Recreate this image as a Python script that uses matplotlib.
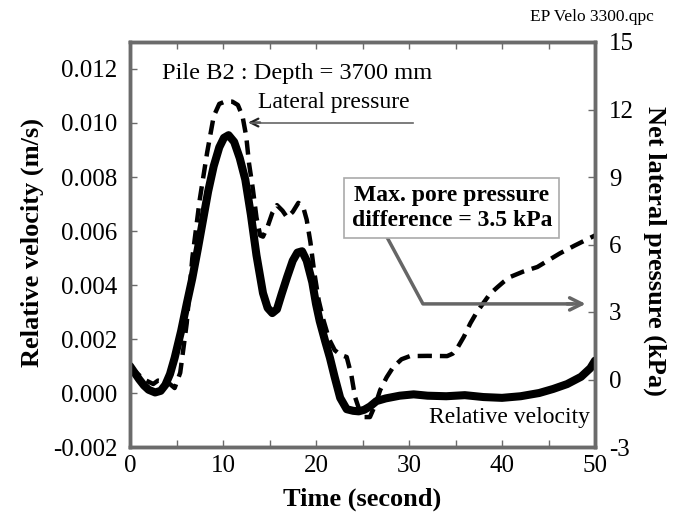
import matplotlib
matplotlib.use("Agg")
import matplotlib.pyplot as plt

plt.rcParams['font.family'] = ['Liberation Serif', 'DejaVu Serif']

# Relative velocity (m/s), left axis
vel_t = [0, 0.5, 1.0, 1.5, 2.0, 2.7, 3.3, 3.8, 4.3, 4.8, 5.5, 6.1, 6.7, 7.3, 7.9, 8.4,
         9.0, 9.6, 10.1, 10.6, 11.2, 11.8, 12.4, 13.0, 13.6, 14.3, 14.8, 15.3, 15.8,
         16.3, 16.9, 17.5, 18.0, 18.5, 19.0, 19.6, 20.0, 20.4, 21.0, 21.5, 22.0, 22.6,
         23.3, 24.0, 24.6, 25.2, 25.8, 26.5, 27.5, 29.0, 30.5, 32.0, 34.0, 36.0, 38.0,
         40.0, 42.0, 44.0, 45.5, 47.0, 48.5, 49.5, 50.0]
vel_v = [0.00100, 0.00075, 0.00050, 0.00028, 0.00012, 0.00002, 0.00008, 0.00030,
         0.00070, 0.00130, 0.00230, 0.00330, 0.00425, 0.00535, 0.00650, 0.00746,
         0.00840, 0.00910, 0.00945, 0.00955, 0.00930, 0.00870, 0.00790, 0.00660,
         0.00510, 0.00370, 0.00315, 0.00296, 0.00310, 0.00366, 0.00430, 0.00490,
         0.00520, 0.00525, 0.00490, 0.00410, 0.00330, 0.00266, 0.00190, 0.00130,
         0.00060, -0.00018, -0.00060, -0.00066, -0.00068, -0.00062, -0.00050,
         -0.00030, -0.00020, -0.00010, -0.00005, -0.00010, -0.00012, -0.00008,
         -0.00015, -0.00018, -0.00012, 0.00000, 0.00015, 0.00033, 0.00060, 0.00092,
         0.00120]

# Net lateral pressure (kPa), right axis
lp_t = [0, 0.7, 1.5, 2.5, 3.0, 4.0, 4.8, 5.4, 6.1, 6.7, 7.5, 8.3, 9.0, 9.6, 10.2, 11.0,
        11.6, 12.1, 12.5, 12.8, 13.2, 13.6, 14.0, 14.3, 14.8, 15.3, 15.8, 16.4, 16.9,
        17.5, 18.1, 18.6, 19.0, 19.4, 19.8, 20.3, 20.8, 21.4, 22.0, 22.6, 23.3, 23.8,
        24.2, 24.7, 25.1, 25.8, 26.4, 26.9, 27.6, 28.3, 29.2, 30.1, 32.0, 34.1, 34.7,
        35.2, 35.9, 36.6, 37.3, 38.0, 38.7, 39.5, 40.2, 40.9, 42.3, 43.8, 45.0, 46.2,
        47.8, 49.5, 50.0]
lp_v = [0.6, 0.3, 0.0, -0.2, -0.05, -0.1, -0.38, 0.3, 2.5, 5.4, 8.0, 10.1, 11.7, 12.25,
        12.35, 12.35, 12.2, 11.7, 10.8, 9.6, 8.5, 7.2, 6.4, 6.35, 6.8, 7.4, 7.75, 7.5,
        7.2, 7.45, 7.85, 7.7, 7.1, 6.1, 4.8, 3.5, 2.64, 1.8, 1.31, 1.1, 1.0, 0.2, -0.78,
        -1.4, -1.67, -1.67, -1.1, -0.47, 0.1, 0.55, 0.9, 1.04, 1.05, 1.04, 1.15, 1.4,
        1.9, 2.5, 3.0, 3.4, 3.8, 4.1, 4.35, 4.56, 4.8, 5.0, 5.3, 5.6, 5.95, 6.3, 6.4]

x_ticks = [0, 10, 20, 30, 40, 50]
x_minor = [5, 15, 25, 35, 45]
left_ticks = [-0.002, 0.000, 0.002, 0.004, 0.006, 0.008, 0.010, 0.012]
right_ticks = [-3, 0, 3, 6, 9, 12, 15]

frame_col = '#6b6b6b'

fig = plt.figure(figsize=(6.84, 5.14), dpi=100)
ax = fig.add_axes([130/684, 1-447/514, 465/684, 405/514])
ax2 = ax.twinx()

ax.plot(vel_t, vel_v, color='black', lw=5.8, solid_capstyle='round',
        solid_joinstyle='round', zorder=3)
ax2.plot(lp_t, lp_v, color='black', lw=3.2, dashes=(3.2, 1.8), zorder=2)

ax.set_xlim(0, 50)
ax.set_ylim(-0.002, 0.013)
ax2.set_ylim(-3, 15)

ax.set_xticks(x_ticks)
ax.set_xticks(x_minor, minor=True)
ax.set_yticks(left_ticks)
ax.set_yticklabels([f"{v:.3f}" for v in left_ticks])
ax2.set_yticks(right_ticks)
ax2.set_yticklabels([str(v) for v in right_ticks])

for a in (ax, ax2):
    for s in a.spines.values():
        s.set_color(frame_col)
        s.set_linewidth(2.5)
ax.tick_params(axis='both', which='both', direction='in', color=frame_col,
               labelsize=18, width=1, top=True)
ax.tick_params(axis='both', which='major', length=5)
ax.tick_params(axis='x', which='minor', length=5)
ax.tick_params(axis='x', which='both', pad=6)
ax.tick_params(axis='y', which='major', pad=9)
ax2.tick_params(axis='y', direction='in', color=frame_col, labelsize=18, width=1,
                length=5, pad=10)

ax.set_xlabel('Time (second)', fontsize=19, fontweight='bold', va='center')
ax.xaxis.set_label_coords(0.5, -0.128)
ax.set_ylabel('Relative velocity (m/s)', fontsize=19, fontweight='bold', va='center')
ax.yaxis.set_label_coords(-0.211, 0.504)
ax2.set_ylabel('Net lateral pressure (kPa)', fontsize=19, fontweight='bold',
               rotation=270, va='center')
ax2.yaxis.set_label_coords(1.129, 0.484)

ax2.text(3.44, 13.6, 'Pile B2 : Depth = 3700 mm', fontsize=17.6, va='center', ha='left')
ax2.text(13.76, 12.3, 'Lateral pressure', fontsize=17, va='center', ha='left')
ax2.plot([13.0, 30.4], [11.42, 11.42], color='#666666', lw=1.2, zorder=4)
ax2.annotate('', xy=(12.7, 11.42), xytext=(14.0, 11.42),
             arrowprops=dict(arrowstyle='->', color='#222222', lw=1.6,
                             mutation_scale=14, shrinkA=0, shrinkB=0))

ax2.text(34.6, 7.62, 'Max. pore pressure\ndifference = 3.5 kPa', fontsize=17,
         fontweight='bold', ha='center', va='center', linespacing=1.25,
         bbox=dict(boxstyle='square,pad=0.3', fc='white', ec='#aaaaaa', lw=1.2),
         zorder=6)
ax2.plot([27.6, 31.5, 47.5], [6.35, 3.36, 3.36], color='#666666', lw=2.5, zorder=5)
ax2.annotate('', xy=(49.0, 3.36), xytext=(47.0, 3.36),
             arrowprops=dict(arrowstyle='->', color='#666666', lw=2.5,
                             mutation_scale=22, shrinkA=0, shrinkB=0), zorder=5)

ax2.text(49.46, -1.67, 'Relative velocity', fontsize=17, ha='right', va='center')

fig.text(530/684, 1-17/514, 'EP Velo 3300.qpc', fontsize=12.5, ha='left', va='center')

fig.savefig('out.png', dpi=100)
